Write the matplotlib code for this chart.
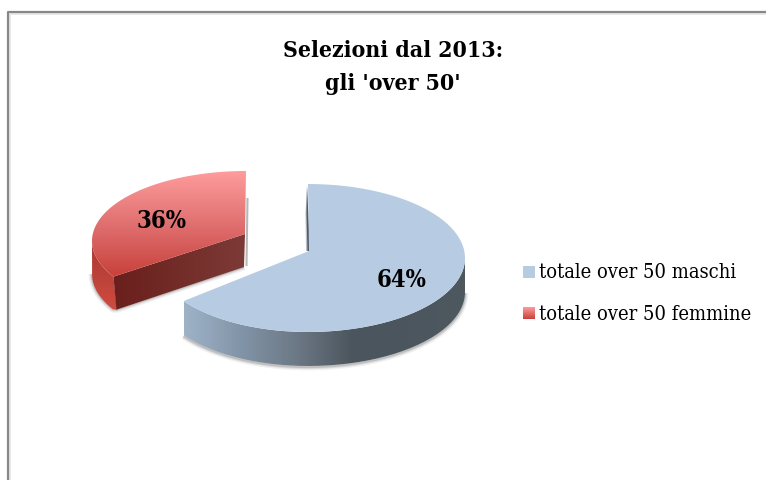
import numpy as np
import matplotlib
matplotlib.use("Agg")
import matplotlib.pyplot as plt
from matplotlib.patches import PathPatch, Rectangle
from matplotlib.path import Path
from matplotlib.colors import LinearSegmentedColormap

title_lines = ["Selezioni dal 2013:", "gli 'over 50'"]
labels = ["totale over 50 maschi", "totale over 50 femmine"]
values = [64, 36]
pct_labels = ["64%", "36%"]

SERIF = ["DejaVu Serif"]
W, H = 766, 480


def arc(cx, cy, a, b, t0, t1, a_left=None, n=80):
    # angles clockwise from 12 o'clock, screen coords
    t = np.radians(np.linspace(t0, t1, n))
    s = np.sin(t)
    aa = np.where(s < 0, a if a_left is None else a_left, a)
    return np.column_stack([cx + aa * s, cy - b * np.cos(t)])


def grad_fill(ax, pts, colors, vertical=True, zorder=2):
    pts = np.asarray(pts)
    x0, x1 = pts[:, 0].min(), pts[:, 0].max()
    y0, y1 = pts[:, 1].min(), pts[:, 1].max()
    cmap = LinearSegmentedColormap.from_list("g", colors)
    g = np.linspace(0, 1, 256)
    g = g[:, None] if vertical else g[None, :]
    im = ax.imshow(g, cmap=cmap, extent=(x0, x1, y1, y0), aspect="auto",
                   zorder=zorder, interpolation="bilinear")
    patch = PathPatch(Path(np.vstack([pts, pts[:1]])), fc="none", ec="none",
                      transform=ax.transData)
    ax.add_patch(patch)
    im.set_clip_path(patch)


def soft_shadow(ax, pts, zorder=1):
    # thin grey halo under a slice
    for lw, alpha in [(5, 0.07), (3, 0.12), (1.5, 0.18)]:
        ax.plot(pts[:, 0], pts[:, 1], color="#404040", lw=lw, alpha=alpha,
                solid_capstyle="butt", zorder=zorder)


fig = plt.figure(figsize=(W / 100, H / 100), dpi=100)
ax = fig.add_axes([0, 0, 1, 1])
ax.set_xlim(0, W)
ax.set_ylim(H, 0)
ax.axis("off")

# chart frame, runs off the right and bottom of the picture
ax.plot([9.5, 9.5, W], [H, 13.5, 13.5], color="#e4e4e4", lw=1.2, zorder=1)
ax.plot([8, 8, W], [H, 12, 12], color="#888888", lw=1.6, zorder=1)

split = 360 * values[0] / sum(values)

# blue slice
cx, cy, a, a_l, b, depth = 308, 258, 157, 153, 74, 34
blue_end = split + 4
top_rim = arc(cx, cy, a, b, 0, blue_end, a_left=a_l)
apex = np.array([309, 251])
side = arc(cx, cy, a, b, 90, blue_end, a_left=a_l)
soft_shadow(ax, side + [0, depth + 1])
grad_fill(ax, np.vstack([side, side[::-1] + [0, depth]]),
          ["#9fb3c8", "#8294a8", "#6c7885", "#4b555d", "#4c565e", "#4e585f"],
          vertical=False, zorder=2)
ax.fill([307, 305.5, 306, 310], [186, 213, 251, 251], color="#b9bfc5", lw=0, zorder=2)
ax.fill([307, 306.5, 307.5, 310], [186, 213, 251, 251], color="#4f5a63", lw=0, zorder=2)
ax.fill(*np.vstack([apex, top_rim]).T, color="#b7cce2", lw=0, zorder=3)

# red slice, pulled out to the upper left
rx, ry, ra, rb, rdepth = 246, 241, 154, 70, 33
red_t0, red_t1 = split + 9, 360
red_rim = arc(rx, ry, ra, rb, red_t0, red_t1)
red_apex = np.array([245, 234])
side = arc(rx, ry, ra, rb, red_t0, 270)
lower = side[::-1] + [0, rdepth]
lower[-1] = side[0] + [3.5, rdepth]  # meets the cut face
soft_shadow(ax, lower)
grad_fill(ax, np.vstack([side, lower]),
          ["#a83a32", "#d04a40"], vertical=True, zorder=2)
cut = np.array([red_rim[0], red_apex, red_apex + [-1, rdepth], red_rim[0] + [3, rdepth]])
soft_shadow(ax, cut[2:], zorder=1)
grad_fill(ax, cut, ["#6a1f1c", "#7c3a36"], vertical=False, zorder=3)
ax.plot([247.5, 246.5], [199, 265], color="#b8b8b8", lw=1.5, zorder=1)
grad_fill(ax, np.vstack([red_apex, red_rim]),
          ["#ff9c9c", "#e07070", "#c8403a"], vertical=True, zorder=4)

# percentage labels
ax.text(402, 280, pct_labels[0], family=SERIF, stretch="condensed", weight="bold",
        fontsize=17, ha="center", va="center", color="black", zorder=6)
ax.text(161, 221, pct_labels[1], family=SERIF, stretch="condensed", weight="bold",
        fontsize=17, ha="center", va="center", color="black", zorder=6)

# title
ax.text(393, 51, title_lines[0], family=SERIF, stretch="condensed", weight="bold",
        fontsize=16.5, ha="center", va="center", color="black")
ax.text(393, 84, title_lines[1], family=SERIF, stretch="condensed", weight="bold",
        fontsize=16.5, ha="center", va="center", color="black")

# legend
ax.add_patch(Rectangle((523, 266), 12, 12, fc="#b7cce2", ec="none"))
grad_fill(ax, [(523, 307), (535, 307), (535, 319), (523, 319)], ["#ff9c9c", "#c8403a"])
ax.text(539, 272, labels[0], family=SERIF, stretch="condensed", fontsize=14.4,
        ha="left", va="center", color="black")
ax.text(539, 314, labels[1], family=SERIF, stretch="condensed", fontsize=14.4,
        ha="left", va="center", color="black")

ax.set_xlim(0, W)
ax.set_ylim(H, 0)
fig.savefig("out.png", dpi=100)
